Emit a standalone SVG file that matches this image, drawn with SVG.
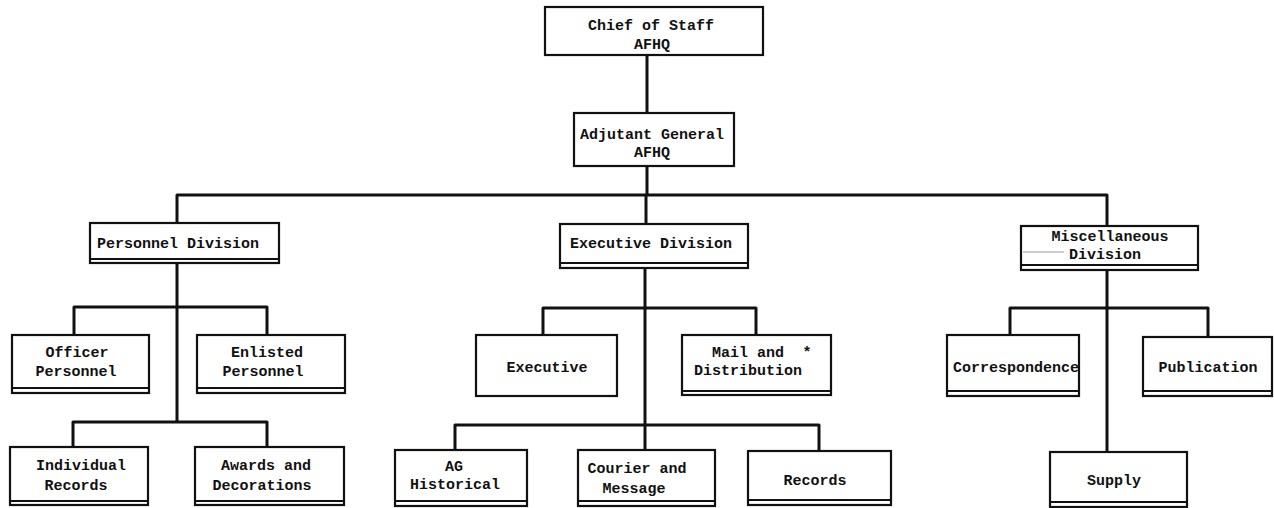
<svg xmlns="http://www.w3.org/2000/svg" width="1274" height="508" viewBox="0 0 1274 508">
<style>
.box{fill:#fff;stroke:#111;stroke-width:2.2}
.dbl{stroke:#111;stroke-width:2}
.con{fill:none;stroke:#111;stroke-width:3;stroke-linejoin:round}
text{font-family:"Liberation Mono","DejaVu Sans Mono",monospace;font-weight:bold;font-size:15px;fill:#111;text-anchor:middle}
</style>
<rect width="1274" height="508" fill="#fff"/>
<g id="connectors">
<path class="con" d="M647 55V113M647 166V195M177 223V195H1107V226M646 195V224"/>
<path class="con" d="M177 263V422M74 335V307H267V335M73 447V422H267V447"/>
<path class="con" d="M645 268V450M543 335V308H756V335M455 450V425H819V451"/>
<path class="con" d="M1107 270V452M1010 335V308H1208V337"/>
</g>
<g id="chief">
<rect class="box" x="545" y="7" width="218" height="48"/>
<text x="651" y="30">Chief of Staff</text>
<text x="652" y="49">AFHQ</text>
</g>
<g id="adjutant">
<rect class="box" x="574" y="113" width="160" height="53"/>
<text x="652" y="139">Adjutant General</text>
<text x="652" y="157">AFHQ</text>
</g>
<g id="personnel-division">
<rect class="box" x="90" y="223" width="189" height="40"/>
<line class="dbl" x1="90" y1="259" x2="279" y2="259"/>
<text x="178" y="248">Personnel Division</text>
</g>
<g id="executive-division">
<rect class="box" x="560" y="224" width="188" height="44"/>
<line class="dbl" x1="560" y1="263" x2="748" y2="263"/>
<text x="651" y="248">Executive Division</text>
</g>
<g id="misc-division">
<rect class="box" x="1021" y="226" width="177" height="44"/>
<line class="dbl" x1="1021" y1="265" x2="1198" y2="265"/>
<line x1="1023" y1="252" x2="1064" y2="252" stroke="#999" stroke-width="1"/>
<text x="1110" y="241">Miscellaneous</text>
<text x="1105" y="259">Division</text>
</g>
<g id="officer-personnel">
<rect class="box" x="12" y="335" width="137" height="58"/>
<line class="dbl" x1="12" y1="388" x2="149" y2="388"/>
<text x="77" y="357">Officer</text>
<text x="76" y="376">Personnel</text>
</g>
<g id="enlisted-personnel">
<rect class="box" x="197" y="335" width="148" height="58"/>
<line class="dbl" x1="197" y1="388" x2="345" y2="388"/>
<text x="267" y="357">Enlisted</text>
<text x="263" y="376">Personnel</text>
</g>
<g id="individual-records">
<rect class="box" x="10" y="447" width="138" height="58"/>
<line class="dbl" x1="10" y1="501" x2="148" y2="501"/>
<text x="81" y="470">Individual</text>
<text x="76" y="490">Records</text>
</g>
<g id="awards-decorations">
<rect class="box" x="195" y="447" width="149" height="58"/>
<line class="dbl" x1="195" y1="501" x2="344" y2="501"/>
<text x="266" y="470">Awards and</text>
<text x="262" y="490">Decorations</text>
</g>
<g id="executive">
<rect class="box" x="476" y="335" width="141" height="61"/>
<text x="547" y="372">Executive</text>
</g>
<g id="mail-distribution">
<rect class="box" x="682" y="335" width="149" height="60"/>
<line class="dbl" x1="682" y1="391" x2="831" y2="391"/>
<text x="748" y="357">Mail and</text>
<text x="807" y="357">*</text>
<text x="748" y="375">Distribution</text>
</g>
<g id="ag-historical">
<rect class="box" x="395" y="450" width="132" height="56"/>
<line class="dbl" x1="395" y1="501" x2="527" y2="501"/>
<text x="454" y="471">AG</text>
<text x="455" y="489">Historical</text>
</g>
<g id="courier-message">
<rect class="box" x="578" y="450" width="137" height="56"/>
<line class="dbl" x1="578" y1="501" x2="715" y2="501"/>
<text x="637" y="473">Courier and</text>
<text x="634" y="493">Message</text>
</g>
<g id="records">
<rect class="box" x="748" y="451" width="143" height="54"/>
<line class="dbl" x1="748" y1="500" x2="891" y2="500"/>
<text x="815" y="485">Records</text>
</g>
<g id="correspondence">
<rect class="box" x="947" y="335" width="132" height="61"/>
<line class="dbl" x1="947" y1="391" x2="1079" y2="391"/>
<text x="1016" y="372">Correspondence</text>
</g>
<g id="publication">
<rect class="box" x="1143" y="337" width="129" height="59"/>
<line class="dbl" x1="1143" y1="391" x2="1272" y2="391"/>
<text x="1208" y="372">Publication</text>
</g>
<g id="supply">
<rect class="box" x="1050" y="452" width="137" height="55"/>
<line class="dbl" x1="1050" y1="502" x2="1187" y2="502"/>
<text x="1114" y="485">Supply</text>
</g>
</svg>
